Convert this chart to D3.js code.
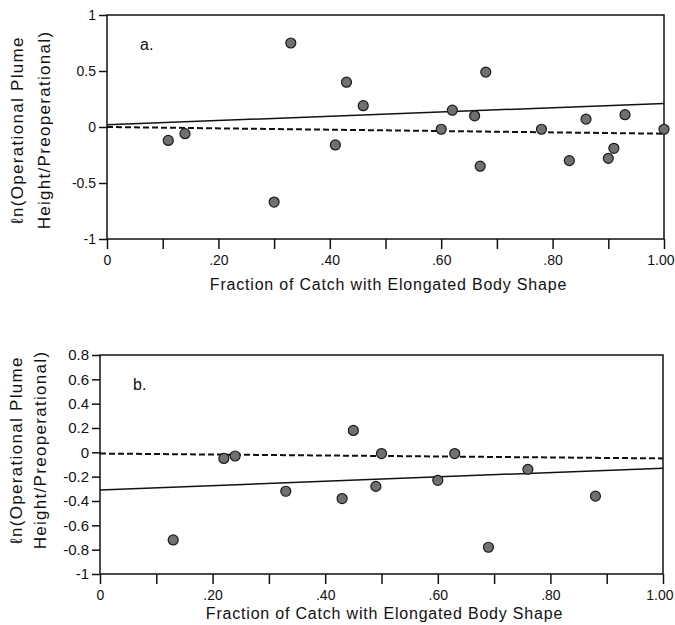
<!DOCTYPE html>
<html>
<head>
<meta charset="utf-8">
<script src="https://cdn.jsdelivr.net/npm/d3@7"></script>
<style>
  body { margin: 0; background: #fff; }
  svg text { font-family: "Liberation Sans", Arial, sans-serif; fill: #111; }
</style>
</head>
<body>
<svg id="chart" width="675" height="625"></svg>
<script>
// panel a points (fraction elongated, ln ratio)
const aX = [0.11, 0.14, 0.30, 0.33, 0.41, 0.43, 0.46, 0.60, 0.62, 0.66, 0.67, 0.68, 0.78, 0.83, 0.86, 0.90, 0.91, 0.93, 1.00];
const aY = [-0.12, -0.06, -0.67, 0.75, -0.16, 0.40, 0.19, -0.02, 0.15, 0.10, -0.35, 0.49, -0.02, -0.30, 0.07, -0.28, -0.19, 0.11, -0.02];
const aSolid = [0.02, 0.21];
const aDashed = [0.0, -0.06];
const aYTicks = [1, 0.5, 0, -0.5, -1];

// panel b points
const bX = [0.13, 0.22, 0.24, 0.33, 0.43, 0.45, 0.49, 0.50, 0.60, 0.63, 0.69, 0.76, 0.88];
const bY = [-0.72, -0.05, -0.03, -0.32, -0.38, 0.18, -0.28, -0.01, -0.23, -0.01, -0.78, -0.14, -0.36];
const bSolid = [-0.31, -0.13];
const bDashed = [-0.01, -0.05];
const bYTicks = [0.8, 0.6, 0.4, 0.2, 0, -0.2, -0.4, -0.6, -0.8, -1];

const xTicks = d3.range(0, 11).map(d => d / 10);
const xTitle = "Fraction of Catch with Elongated Body Shape";
const yTitle1 = "\u2113n(Operational Plume";
const yTitle2 = "Height/Preoperational)";

const svg = d3.select("#chart");

function xFmt(d) {
    if (d === 0) return "0";
    if (Math.round(d * 10) % 2 !== 0) return "";
    if (d === 1) return "1.00";
    return "." + Math.round(d * 100);
}

function drawPanel(p) {
    const g = svg.append("g");
    const x = d3.scaleLinear().domain([0, 1]).range([p.left, p.right]);
    const y = d3.scaleLinear().domain(p.yDomain).range([p.bottom, p.top]);

    // frame
    g.append("rect")
        .attr("x", p.left).attr("y", p.top)
        .attr("width", p.right - p.left).attr("height", p.bottom - p.top)
        .attr("fill", "none").attr("stroke", "#111").attr("stroke-width", 1.5);

    const xa = g.append("g")
        .attr("transform", `translate(0,${p.bottom})`)
        .call(d3.axisBottom(x).tickValues(xTicks).tickFormat(xFmt).tickSize(10).tickPadding(6));
    xa.select(".domain").remove();
    xa.selectAll("line").attr("stroke", "#111").attr("stroke-width", 1.5);
    xa.selectAll("text").attr("font-size", 14).style("font-family", "Liberation Sans, Arial, sans-serif");
    // keep the last label inside the page
    xa.selectAll("text").filter(d => d === 1).attr("text-anchor", "end").attr("dx", 10);

    const ya = g.append("g")
        .attr("transform", `translate(${p.left},0)`)
        .call(d3.axisLeft(y).tickValues(p.yTicks).tickFormat(d => String(d)).tickSize(8).tickPadding(3));
    ya.select(".domain").remove();
    ya.selectAll("line").attr("stroke", "#111").attr("stroke-width", 1.5);
    ya.selectAll("text").attr("font-size", p.yTickFont).style("font-family", "Liberation Sans, Arial, sans-serif");

    // fitted lines
    g.append("line")
        .attr("x1", x(0)).attr("x2", x(1))
        .attr("y1", y(p.solid[0])).attr("y2", y(p.solid[1]))
        .attr("stroke", "#111").attr("stroke-width", 1.5);
    g.append("line")
        .attr("x1", x(0)).attr("x2", x(1))
        .attr("y1", y(p.dashed[0])).attr("y2", y(p.dashed[1]))
        .attr("stroke", "#111").attr("stroke-width", 2)
        .attr("stroke-dasharray", "6,3");

    g.selectAll("circle")
        .data(p.xs.map((d, i) => [d, p.ys[i]]))
        .enter()
        .append("circle")
        .attr("cx", d => x(d[0]))
        .attr("cy", d => y(d[1]))
        .attr("r", 5)
        .attr("fill", "#707070")
        .attr("stroke", "#1a1a1a")
        .attr("stroke-width", 1.2);

    g.append("text")
        .attr("x", p.left + 33).attr("y", p.top + 35)
        .attr("font-size", 16)
        .text(p.tag);

    g.append("text")
        .attr("x", (p.left + p.right) / 2 + 3).attr("y", p.titleY)
        .attr("text-anchor", "middle")
        .attr("font-size", 16)
        .attr("letter-spacing", 0.8)
        .text(xTitle);

    g.append("text")
        .attr("transform", `translate(${p.yl1},${p.ycy}) rotate(-90)`)
        .attr("text-anchor", "middle")
        .attr("font-size", 17)
        .attr("letter-spacing", 1.3)
        .text(yTitle1);
    g.append("text")
        .attr("transform", `translate(${p.yl2},${p.ycy}) rotate(-90)`)
        .attr("text-anchor", "middle")
        .attr("font-size", 17)
        .attr("letter-spacing", 1.3)
        .text(yTitle2);
}

drawPanel({
    left: 107, right: 664, top: 15, bottom: 239,
    yDomain: [-1, 1], yTicks: aYTicks, yTickFont: 14,
    xs: aX, ys: aY, solid: aSolid, dashed: aDashed,
    tag: "a.", titleY: 290, yl1: 23, yl2: 50, ycy: 130
});

drawPanel({
    left: 100, right: 663, top: 355, bottom: 574,
    yDomain: [-1, 0.8], yTicks: bYTicks, yTickFont: 15,
    xs: bX, ys: bY, solid: bSolid, dashed: bDashed,
    tag: "b.", titleY: 619, yl1: 22, yl2: 46, ycy: 450
});
</script>
</body>
</html>
